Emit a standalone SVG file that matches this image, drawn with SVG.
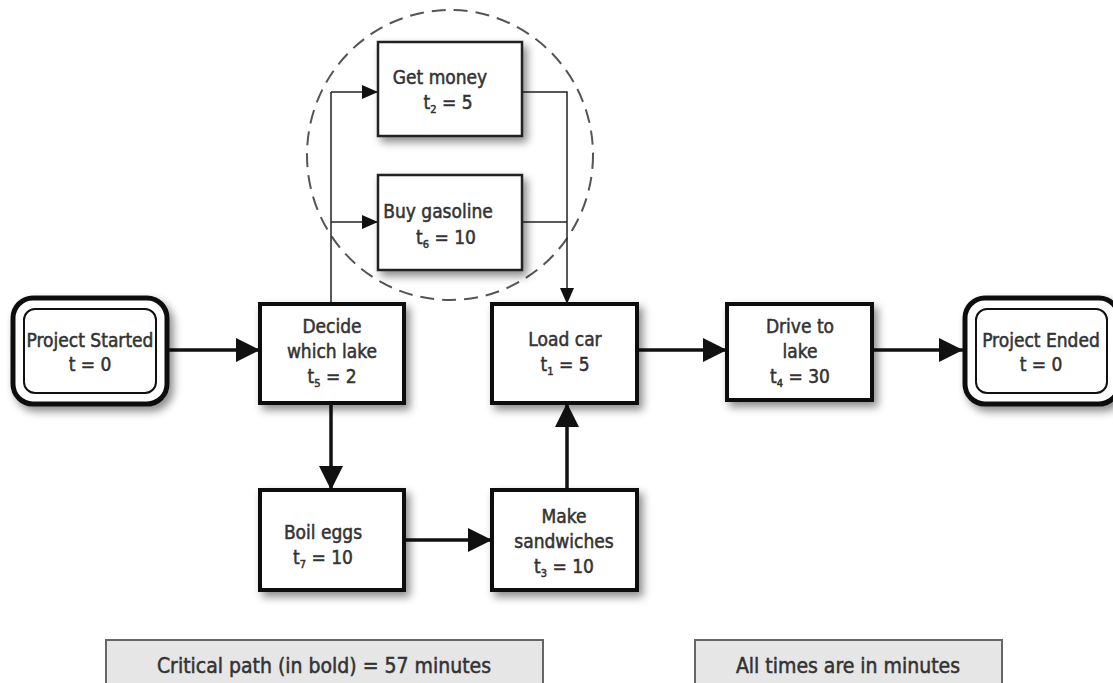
<svg xmlns="http://www.w3.org/2000/svg" width="1113" height="683" viewBox="0 0 1113 683">
<defs>
<filter id="sh" x="-20%" y="-20%" width="150%" height="150%">
<feDropShadow dx="4" dy="5" stdDeviation="4" flood-color="#000" flood-opacity="0.45"/>
</filter>
<marker id="big" markerUnits="userSpaceOnUse" markerWidth="26" markerHeight="24" refX="24" refY="12" orient="auto">
<path d="M0,0 L24,12 L0,24 Z" fill="#111"/>
</marker>
<marker id="small" markerUnits="userSpaceOnUse" markerWidth="16" markerHeight="14" refX="16" refY="7" orient="auto">
<path d="M0,0 L16,7 L0,14 Z" fill="#111"/>
</marker>
<style>
.box{fill:#fff;stroke:#111;stroke-width:4;filter:url(#sh)}
.tbox{fill:#fff;stroke:#222;stroke-width:2.5;filter:url(#sh)}
.t{font-family:'DejaVu Sans Condensed','Liberation Sans Narrow','Liberation Sans',sans-serif;font-size:19px;fill:#333;stroke:#333;stroke-width:0.5;text-anchor:middle}
.n{font-size:21px}
.sub{font-size:11px}
.thick{stroke:#111;stroke-width:3.5;fill:none;marker-end:url(#big)}
.thin{stroke:#222;stroke-width:1.5;fill:none}
.thinA{stroke:#222;stroke-width:1.5;fill:none;marker-end:url(#small)}
.note{fill:#e6e6e6;stroke:#666;stroke-width:2}
</style>
</defs>
<rect width="1113" height="683" fill="#fff"/>
<ellipse cx="450" cy="155" rx="143" ry="145" fill="none" stroke="#555" stroke-width="2" stroke-dasharray="14,8"/>
<g id="connectors">
<path class="thick" d="M168,350 L260,350"/>
<path class="thick" d="M331,403 L331,490"/>
<path class="thick" d="M404,540 L492,540"/>
<path class="thick" d="M567,490 L567,403"/>
<path class="thick" d="M637,350 L727,350"/>
<path class="thick" d="M872,350 L963,350"/>
<path class="thin" d="M331,304 L331,92"/>
<path class="thinA" d="M331,92 L378,92"/>
<path class="thinA" d="M331,222 L378,222"/>
<path class="thin" d="M522,92 L567,92 L567,222"/>
<path class="thin" d="M522,222 L567,222"/>
<path class="thinA" d="M567,222 L567,304"/>
</g>
<g id="project-started">
<rect x="13" y="298" width="154" height="106" rx="20" fill="#fff" stroke="#111" stroke-width="5" filter="url(#sh)"/>
<rect x="24" y="309" width="132" height="84" rx="11" fill="#fff" stroke="#111" stroke-width="2"/>
<text class="t" x="90" y="347">Project Started</text>
<text class="t" x="90" y="371">t = 0</text>
</g>
<g id="decide">
<rect class="box" x="260" y="304" width="144" height="99"/>
<text class="t" x="332" y="333">Decide</text>
<text class="t" x="332" y="358">which lake</text>
<text class="t" x="332" y="383">t<tspan class="sub" dy="4">5</tspan><tspan dy="-4"> = 2</tspan></text>
</g>
<g id="get-money">
<rect class="tbox" x="378" y="42" width="144" height="94"/>
<text class="t" x="440" y="84">Get money</text>
<text class="t" x="448" y="109">t<tspan class="sub" dy="4">2</tspan><tspan dy="-4"> = 5</tspan></text>
</g>
<g id="buy-gasoline">
<rect class="tbox" x="378" y="175" width="144" height="95"/>
<text class="t" x="438" y="218">Buy gasoline</text>
<text class="t" x="446" y="244">t<tspan class="sub" dy="4">6</tspan><tspan dy="-4"> = 10</tspan></text>
</g>
<g id="load-car">
<rect class="box" x="492" y="304" width="145" height="99"/>
<text class="t" x="565" y="346">Load car</text>
<text class="t" x="565" y="371">t<tspan class="sub" dy="4">1</tspan><tspan dy="-4"> = 5</tspan></text>
</g>
<g id="drive">
<rect class="box" x="727" y="304" width="145" height="96"/>
<text class="t" x="800" y="333">Drive to</text>
<text class="t" x="800" y="358">lake</text>
<text class="t" x="800" y="383">t<tspan class="sub" dy="4">4</tspan><tspan dy="-4"> = 30</tspan></text>
</g>
<g id="project-ended">
<rect x="965" y="298" width="154" height="106" rx="20" fill="#fff" stroke="#111" stroke-width="5" filter="url(#sh)"/>
<rect x="976" y="309" width="131" height="84" rx="11" fill="#fff" stroke="#111" stroke-width="2"/>
<text class="t" x="1041" y="347">Project Ended</text>
<text class="t" x="1041" y="371">t = 0</text>
</g>
<g id="boil-eggs">
<rect class="box" x="260" y="490" width="144" height="100"/>
<text class="t" x="323" y="539">Boil eggs</text>
<text class="t" x="323" y="564">t<tspan class="sub" dy="4">7</tspan><tspan dy="-4"> = 10</tspan></text>
</g>
<g id="make-sandwiches">
<rect class="box" x="492" y="490" width="145" height="100"/>
<text class="t" x="564" y="523">Make</text>
<text class="t" x="564" y="548">sandwiches</text>
<text class="t" x="564" y="573">t<tspan class="sub" dy="4">3</tspan><tspan dy="-4"> = 10</tspan></text>
</g>
<g id="note-critical">
<rect class="note" x="106" y="640" width="437" height="50"/>
<text class="t n" x="324" y="673">Critical path (in bold) = 57 minutes</text>
</g>
<g id="note-times">
<rect class="note" x="695" y="640" width="307" height="50"/>
<text class="t n" x="848" y="673">All times are in minutes</text>
</g>
</svg>
